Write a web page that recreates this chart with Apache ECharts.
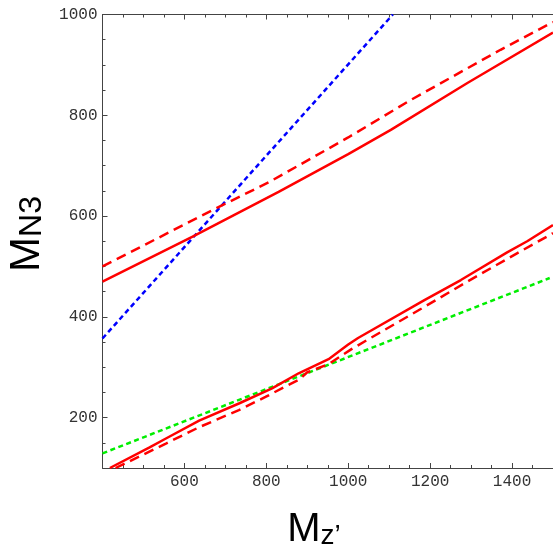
<!DOCTYPE html>
<html><head><meta charset="utf-8">
<script src="https://cdn.jsdelivr.net/npm/echarts@6/dist/echarts.min.js"></script>
<style>html,body{margin:0;padding:0;background:#fff}#c{width:553px;height:548px}</style>
</head><body><div id="c"></div><script>
// Axis ticks
const xMajorTicks = [600, 800, 1000, 1200, 1400];
const xMinorTicks = [450, 500, 550, 650, 700, 750, 850, 900, 950, 1050, 1100, 1150, 1250, 1300, 1350, 1450];
const yMajorTicks = [200, 400, 600, 800, 1000];
const yMinorTicks = [150, 250, 300, 350, 450, 500, 550, 650, 700, 750, 850, 900, 950];

// Series data [Mz', MN3]
const blueDashed = [[400, 357], [1109, 1000]];
const greenDashed = [[400, 129], [1492, 477]];
const redSolidUpper = [[400, 470], [620, 559], [830, 648], [1000, 723], [1104, 771], [1291, 864], [1500, 964]];
const redDashedUpper = [[400, 500], [669, 612], [806, 667], [1000, 756], [1154, 831], [1372, 930], [1500, 985]];
const redSolidLower = [[418, 100], [515, 141], [556, 159], [636, 194], [733, 228], [814, 258], [879, 288], [952, 316], [1000, 345], [1024, 358], [1186, 433], [1275, 473], [1388, 528], [1437, 550], [1500, 582]];
const redDashedLower = [[432, 100], [556, 149], [636, 181], [733, 215], [798, 241], [847, 262], [879, 275], [900, 290], [952, 306], [1008, 336], [1178, 416], [1291, 470], [1412, 526], [1500, 566]];

const chart = echarts.init(document.getElementById('c'));
const axisCol = '#444';
const labelFont = {fontFamily: 'Liberation Mono', fontSize: 16, color: '#333', formatter: function (v) { return String(v); }};

function xAx(pos, ticks, len, showLine, labels) {
  return {
    type: 'value', position: pos, min: 400, max: 1500,
    splitLine: {show: false},
    axisLine: {show: showLine, lineStyle: {color: axisCol, width: 1}},
    axisTick: {show: true, inside: true, length: len, customValues: ticks, lineStyle: {color: axisCol, width: 1}},
    axisLabel: labels ? Object.assign({show: true, margin: 6, customValues: xMajorTicks}, labelFont) : {show: false}
  };
}
function yAx(ticks, len, showLine, labels) {
  return {
    type: 'value', position: 'left', min: 100, max: 1000,
    splitLine: {show: false},
    axisLine: {show: showLine, lineStyle: {color: axisCol, width: 1}},
    axisTick: {show: true, inside: true, length: len, customValues: ticks, lineStyle: {color: axisCol, width: 1}},
    axisLabel: labels ? Object.assign({show: true, margin: 5, customValues: yMajorTicks}, labelFont) : {show: false}
  };
}
function line(data, color, type, width, z) {
  return {type: 'line', data: data, showSymbol: false, symbol: 'none', smooth: false, z: z, animation: false,
    xAxisIndex: 0, yAxisIndex: 0,
    lineStyle: {color: color, width: width, type: type}};
}

chart.setOption({
  animation: false,
  backgroundColor: '#fff',
  grid: {left: 102.5, top: 14.5, right: -3, bottom: 80},
  xAxis: [
    xAx('bottom', xMajorTicks, 5, true, true),
    xAx('bottom', xMinorTicks, 3, false, false),
    xAx('top', xMajorTicks, 5, true, false),
    xAx('top', xMinorTicks, 3, false, false)
  ],
  yAxis: [
    yAx(yMajorTicks, 5, true, true),
    yAx(yMinorTicks, 3, false, false)
  ],
  series: [
    line(greenDashed, '#00ee00', [5, 3.5], 2.5, 2),
    line(blueDashed, '#0000ff', [5, 3.5], 2.5, 2),
    line(redDashedUpper, '#ff0000', [10, 6], 2.5, 3),
    line(redDashedLower, '#ff0000', [10, 6], 2.5, 3),
    line(redSolidUpper, '#ff0000', 'solid', 2.5, 4),
    line(redSolidLower, '#ff0000', 'solid', 2.5, 4)
  ],
  graphic: [
    {type: 'text', x: 314, y: 530, style: {
      text: '{a|M}{b|z’}', align: 'center', verticalAlign: 'middle', fill: '#000',
      rich: {a: {fontFamily: 'Liberation Sans', fontSize: 40, fill: '#000', verticalAlign: 'bottom', lineHeight: 40},
             b: {fontFamily: 'Liberation Sans', fontSize: 28, fill: '#000', verticalAlign: 'bottom', lineHeight: 40}}}},
    {type: 'text', x: 27, y: 234, rotation: Math.PI / 2, style: {
      text: '{a|M}{b|N3}', align: 'center', verticalAlign: 'middle', fill: '#000',
      rich: {a: {fontFamily: 'Liberation Sans', fontSize: 42, fill: '#000', verticalAlign: 'bottom', lineHeight: 42},
             b: {fontFamily: 'Liberation Sans', fontSize: 32, fill: '#000', verticalAlign: 'bottom', lineHeight: 42}}}}
  ]
});
</script></body></html>
